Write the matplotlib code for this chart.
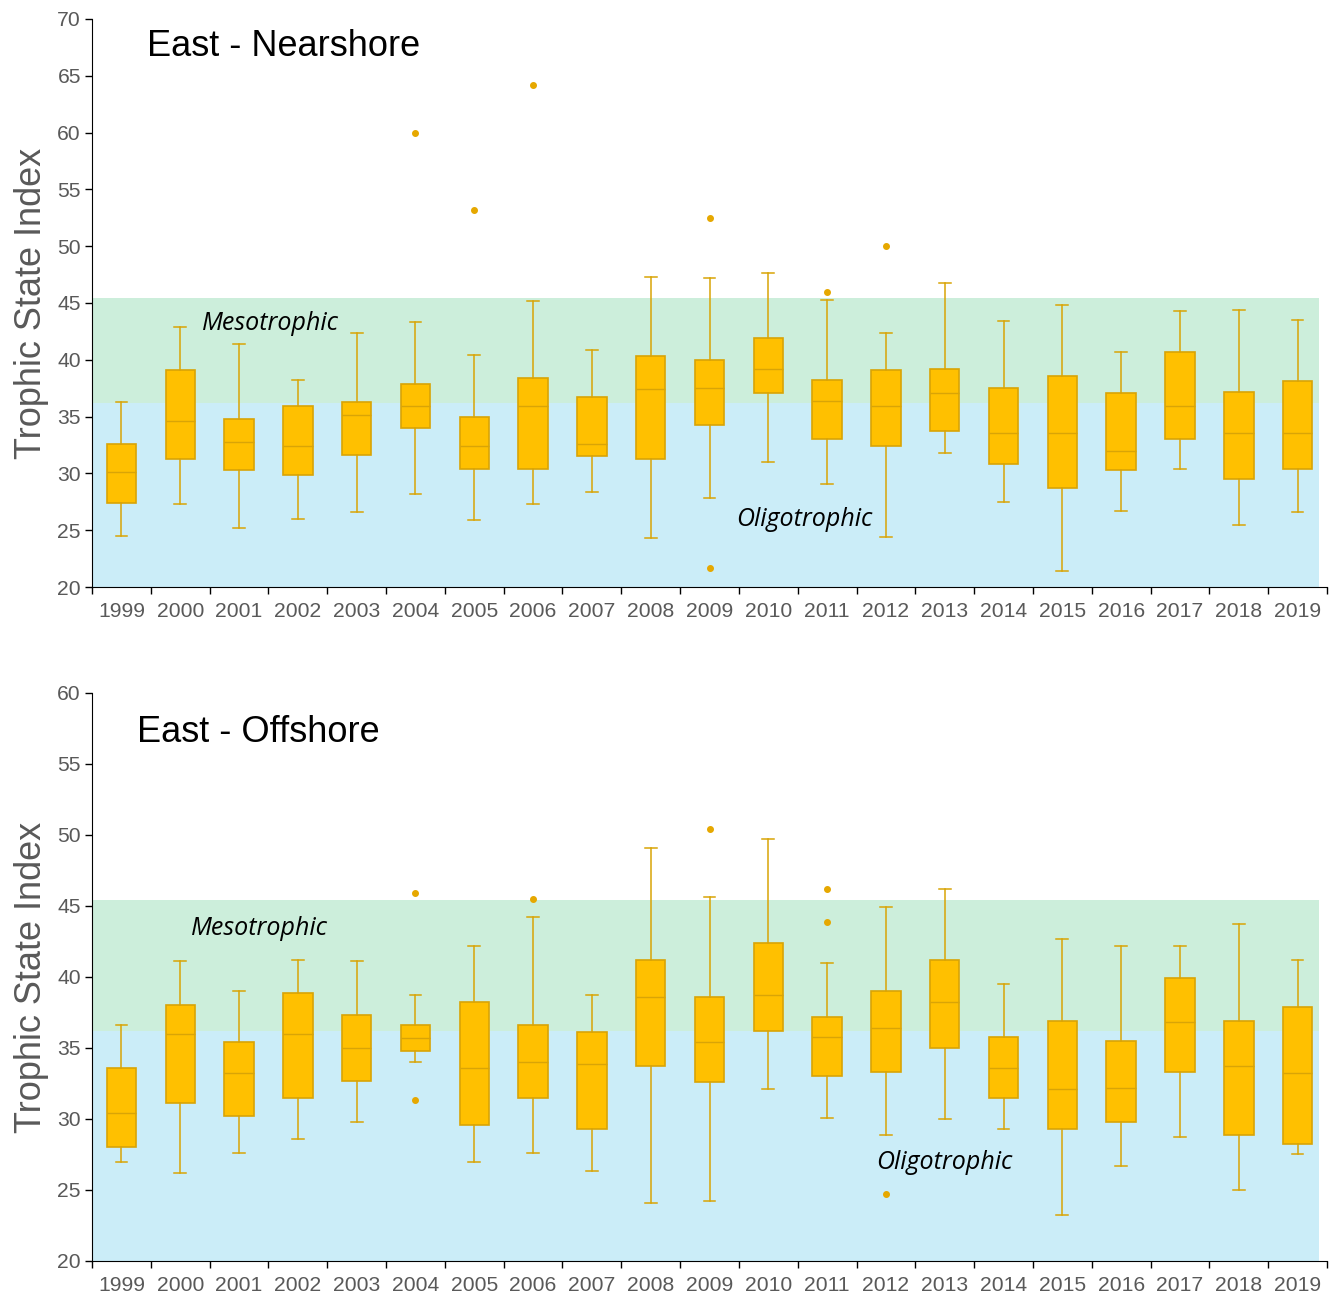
import matplotlib
matplotlib.use("Agg")
import matplotlib.pyplot as plt
import numpy as np

years = [str(y) for y in range(1999, 2020)]

# East - Nearshore
near_whislo = [24.5, 27.3, 25.2, 26.0, 26.6, 28.2, 25.9, 27.3, 28.4, 24.3, 27.8, 31.0, 29.1, 24.4, 31.8, 27.5, 21.4, 26.7, 30.4, 25.5, 26.6]
near_q1     = [27.4, 31.3, 30.3, 29.9, 31.6, 34.0, 30.4, 30.4, 31.5, 31.3, 34.3, 37.1, 33.0, 32.4, 33.7, 30.8, 28.7, 30.3, 33.0, 29.5, 30.4]
near_med    = [30.1, 34.6, 32.8, 32.4, 35.1, 35.9, 32.4, 35.9, 32.6, 37.4, 37.5, 39.2, 36.4, 35.9, 37.1, 33.6, 33.6, 32.0, 35.9, 33.6, 33.6]
near_q3     = [32.6, 39.1, 34.8, 35.9, 36.3, 37.9, 35.0, 38.4, 36.7, 40.3, 40.0, 41.9, 38.2, 39.1, 39.2, 37.5, 38.6, 37.1, 40.7, 37.2, 38.1]
near_whishi = [36.3, 42.9, 41.4, 38.2, 42.4, 43.3, 40.4, 45.2, 40.9, 47.3, 47.2, 47.6, 45.3, 42.4, 46.8, 43.4, 44.8, 40.7, 44.3, 44.4, 43.5]
near_fliers = [[], [], [], [], [], [60.0], [53.2], [64.2], [], [], [52.5, 21.7], [], [46.0], [50.0], [], [], [], [], [], [], []]

# East - Offshore
off_whislo = [27.0, 26.2, 27.6, 28.6, 29.8, 34.0, 27.0, 27.6, 26.3, 24.1, 24.2, 32.1, 30.1, 28.9, 30.0, 29.3, 23.2, 26.7, 28.7, 25.0, 27.5]
off_q1     = [28.0, 31.1, 30.2, 31.5, 32.7, 34.8, 29.6, 31.5, 29.3, 33.7, 32.6, 36.2, 33.0, 33.3, 35.0, 31.5, 29.3, 29.8, 33.3, 28.9, 28.2]
off_med    = [30.4, 36.0, 33.2, 36.0, 35.0, 35.7, 33.6, 34.0, 33.9, 38.6, 35.4, 38.7, 35.8, 36.4, 38.2, 33.6, 32.1, 32.2, 36.8, 33.7, 33.2]
off_q3     = [33.6, 38.0, 35.4, 38.9, 37.3, 36.6, 38.2, 36.6, 36.1, 41.2, 38.6, 42.4, 37.2, 39.0, 41.2, 35.8, 36.9, 35.5, 39.9, 36.9, 37.9]
off_whishi = [36.6, 41.1, 39.0, 41.2, 41.1, 38.7, 42.2, 44.2, 38.7, 49.1, 45.6, 49.7, 41.0, 44.9, 46.2, 39.5, 42.7, 42.2, 42.2, 43.7, 41.2]
off_fliers = [[], [], [], [], [], [45.9, 31.3], [], [45.5], [], [], [50.4], [], [46.2, 43.9], [24.7], [], [], [], [], [], [], []]

# Trophic bands
oligo_range = (20, 36.2)
meso_range = (36.2, 45.4)

BOX_FILL = "#FFC000"
BOX_EDGE = "#D9A406"
TICK_GRAY = "#595959"


def make_stats(lo, q1, med, q3, hi, fl):
    stats = []
    for i in range(len(lo)):
        stats.append(dict(whislo=lo[i], q1=q1[i], med=med[i], q3=q3[i], whishi=hi[i],
                          fliers=fl[i], label=years[i]))
    return stats


fig = plt.figure(figsize=(13.43, 12.97), dpi=100)
ax1 = fig.add_axes([0.0685, 0.5474, 0.9196, 0.438])
ax2 = fig.add_axes([0.0685, 0.0278, 0.9196, 0.438])

panels = [
    (ax1, make_stats(near_whislo, near_q1, near_med, near_q3, near_whishi, near_fliers),
     (20, 70), np.arange(20, 71, 5), "East - Nearshore", (0.0445, 0.951),
     (2.54, 43.2), (11.61, 25.95)),
    (ax2, make_stats(off_whislo, off_q1, off_med, off_q3, off_whishi, off_fliers),
     (20, 60), np.arange(20, 61, 5), "East - Offshore", (0.0364, 0.931),
     (2.34, 43.4), (14.0, 26.95)),
]

for ax, stats, ylim, yt, title, tpos, mpos, opos in panels:
    xmax_frac = 0.9935
    ax.axhspan(oligo_range[0], oligo_range[1], xmin=0, xmax=xmax_frac, color="#CBEDF8", lw=0, zorder=0)
    ax.axhspan(meso_range[0], meso_range[1], xmin=0, xmax=xmax_frac, color="#CCEEDB", lw=0, zorder=0)
    ax.bxp(stats, positions=np.arange(len(stats)), widths=0.5, patch_artist=True,
           boxprops=dict(facecolor=BOX_FILL, edgecolor=BOX_EDGE, linewidth=1.2),
           medianprops=dict(color=BOX_EDGE, linewidth=1.0),
           whiskerprops=dict(color=BOX_EDGE, linewidth=1.1),
           capprops=dict(color=BOX_EDGE, linewidth=1.1),
           capwidths=0.2,
           flierprops=dict(marker="o", markersize=4, markerfacecolor="#E6A800",
                           markeredgecolor="#E6A800"),
           zorder=3)
    ax.set_xlim(-0.5, len(stats) - 0.5)
    ax.set_ylim(*ylim)
    ax.set_yticks(yt)
    ax.set_xticks(np.arange(len(stats)))
    ax.set_xticklabels(years)
    ax.set_xticks(np.arange(len(stats) + 1) - 0.5, minor=True)
    ax.tick_params(axis="x", which="major", length=0, pad=11, labelsize=15.2, labelcolor=TICK_GRAY)
    ax.tick_params(axis="x", which="minor", length=5, width=1, color="black", direction="out")
    ax.tick_params(axis="y", which="major", length=5, width=1, color="black", direction="out",
                   labelsize=15.2, labelcolor=TICK_GRAY, pad=3)
    for lab in ax.get_xticklabels() + ax.get_yticklabels():
        lab.set_family("Liberation Sans")
    ax.spines["top"].set_visible(False)
    ax.spines["right"].set_visible(False)
    ax.spines["left"].set_color("black")
    ax.spines["bottom"].set_color("black")
    ax.set_ylabel("Trophic State Index", fontsize=26, color=TICK_GRAY, family="Liberation Sans",
                  labelpad=6)
    ax.text(tpos[0], tpos[1], title, transform=ax.transAxes, fontsize=26, family="Liberation Sans",
            color="black", ha="left", va="center")
    ax.text(mpos[0], mpos[1], "Mesotrophic", fontsize=18, style="italic", family="Open Sans",
            ha="center", va="center", color="black", zorder=4)
    ax.text(opos[0], opos[1], "Oligotrophic", fontsize=18, style="italic", family="Open Sans",
            ha="center", va="center", color="black", zorder=4)

fig.savefig("out.png", dpi=100)
